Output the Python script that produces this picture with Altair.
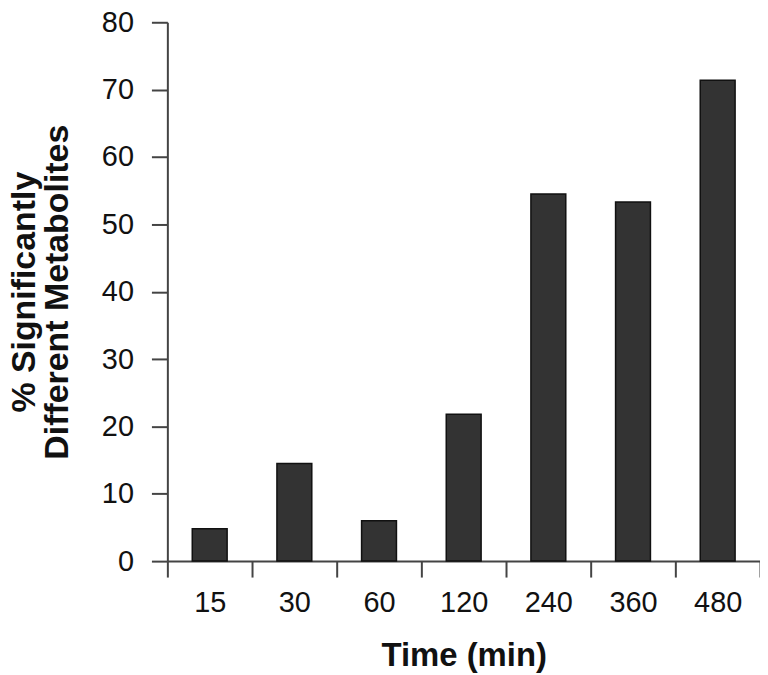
import altair as alt
import pandas as pd

times = ["15", "30", "60", "120", "240", "360", "480"]
percent = [4.8, 14.5, 6.0, 21.8, 54.5, 53.3, 71.4]

df = pd.DataFrame({"time": times, "pct": percent})
df["pos"] = [i + 0.5 for i in range(len(times))]

label_arr = "[" + ",".join("'" + t + "'" for t in times) + "]"

W, H = 595, 541
FONT = "Liberation Sans"

chart = alt.Chart(df).mark_bar(
    size=35, color="#333333", stroke="#111111", strokeWidth=1.5
).encode(
    x=alt.X(
        "pos:Q",
        scale=alt.Scale(domain=[0, len(times)], nice=False, zero=False, padding=0),
        axis=alt.Axis(
            title="Time (min)",
            values=list(range(len(times) + 1)),
            labelExpr=f"datum.value < {len(times)} ? {label_arr}[datum.value] : ''",
            labelOffset=W / len(times) / 2,
            labelFlush=False,
            labelOverlap=False,
            labelBound=False,
            grid=False,
            tickSize=16,
            tickWidth=2,
            tickColor="#444444",
            domainColor="#444444",
            domainWidth=2,
            labelFont=FONT,
            labelFontSize=29,
            labelColor="#111111",
            labelPadding=12,
            titleFont=FONT,
            titleFontSize=33,
            titleFontWeight="bold",
            titleColor="#111111",
            titlePadding=22,
        ),
    ),
    y=alt.Y(
        "pct:Q",
        scale=alt.Scale(domain=[0, 80], nice=False),
        axis=alt.Axis(
            title=["% Significantly", "Different Metabolites"],
            values=list(range(0, 81, 10)),
            grid=False,
            tickSize=16,
            tickWidth=2,
            tickColor="#444444",
            domainColor="#444444",
            domainWidth=2,
            labelFont=FONT,
            labelFontSize=29,
            labelColor="#111111",
            labelPadding=18,
            titleFont=FONT,
            titleFontSize=34,
            titleFontWeight="bold",
            titleColor="#111111",
            titleLineHeight=33,
            titlePadding=27,
        ),
    ),
).properties(
    width=W,
    height=H,
    autosize=alt.AutoSizeParams(type="none"),
    padding={"left": 160, "top": 13, "right": 0, "bottom": 112},
).configure_view(stroke=None)

chart.save("out.html", embed_options={"renderer": "svg", "actions": False})
